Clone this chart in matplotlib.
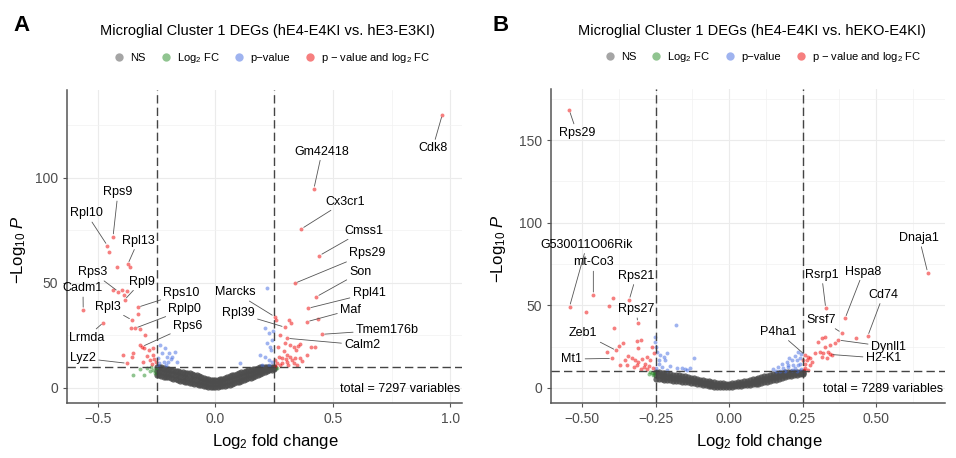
import matplotlib.pyplot as plt
from matplotlib.lines import Line2D

plt.rcParams['font.family'] = ['Liberation Sans', 'DejaVu Sans']
plt.rcParams['mathtext.fontset'] = 'custom'
plt.rcParams['mathtext.rm'] = 'Liberation Sans'
plt.rcParams['mathtext.it'] = 'Liberation Sans:italic'

# ---------------- panel A data ----------------
a_title = "Microglial Cluster 1 DEGs (hE4-E4KI vs. hE3-E3KI)"
a_total = 7297
a_genes = ["Cdk8", "Gm42418", "Cx3cr1", "Cmss1", "Rps29", "Son", "Rpl41", "Maf",
           "Tmem176b", "Calm2", "Marcks", "Rpl39", "Rps9", "Rpl10", "Rpl13", "Rps3",
           "Rpl9", "Cadm1", "Rps10", "Rpl3", "Rplp0", "Rps6", "Lrmda", "Lyz2"]
a_gene_fc = [0.966, 0.419, 0.366, 0.443, 0.338, 0.43, 0.395, 0.39,
             0.454, 0.305, 0.252, 0.295, -0.436, -0.46, -0.373, -0.413,
             -0.387, -0.563, -0.33, -0.356, -0.342, -0.313, -0.477, -0.377]
a_gene_p = [130, 94.6, 75.6, 62.9, 49.7, 43.3, 37.8, 31.4,
            25.4, 23.5, 33.8, 28.8, 71.9, 67.6, 58.8, 45.7,
            41.8, 37, 38.3, 32.2, 28.3, 19.5, 31, 11.6]
a_red_fc = [-0.363, -0.42, -0.453, -0.435, -0.396, -0.377, -0.39, -0.33, -0.359, -0.32,
            -0.299, -0.32, -0.306, -0.285, -0.264, -0.268, -0.262, -0.278, -0.272, -0.392,
            -0.349, -0.356, -0.29, -0.255, -0.31,
            0.258, 0.312, 0.323, 0.276, 0.298, 0.319, 0.333, 0.352, 0.362, 0.343,
            0.405, 0.423, 0.437, 0.269, 0.283, 0.305, 0.319, 0.326, 0.34, 0.362,
            0.305, 0.283, 0.262, 0.255, 0.276, 0.348, 0.333, 0.39, 0.29, 0.265,
            0.31, 0.37, 0.255, 0.3]
a_red_p = [57.6, 57.6, 64.8, 46.5, 46.5, 46.2, 44.1, 35.1, 28.3, 27.8,
           25.1, 20.3, 18.8, 18, 18.8, 15.6, 13.5, 13.2, 11.5, 15.6,
           16.4, 14.8, 15.0, 12.0, 12.2,
           32.2, 32.2, 31, 25.1, 21.1, 20.3, 19.5, 19.8, 20.8, 18,
           19.2, 19.2, 32.6, 14.8, 14, 15.6, 14.8, 13.2, 14, 14,
           12.4, 11.6, 11.6, 13.2, 10.8, 10.8, 11.7, 15.6, 17.5, 19.5,
           10.6, 12.5, 10.5, 13.5]
a_blue_fc = [-0.235, -0.214, -0.197, -0.185, -0.206, -0.228, -0.171, -0.221, -0.239, -0.2,
             -0.245, -0.165, -0.19, -0.21, -0.245, 0.105, 0.219, 0.212, 0.226, 0.219,
             0.19, 0.212, 0.238, 0.241, 0.234, 0.241, 0.226, 0.245, 0.23, 0.2]
a_blue_p = [20.3, 18.8, 16.4, 14.8, 14.8, 16.4, 17.1, 12.4, 11.9, 12.4,
            14, 12.4, 13.5, 11, 10.5, 11.6, 47.3, 28.3, 25.9, 21.1,
            15.6, 14.8, 18, 22.7, 19.5, 12.4, 13.2, 27, 11, 10.8]
a_green_fc = [-0.349, -0.306, -0.292, -0.274, -0.259, -0.265, -0.28, -0.255, -0.32, 0.26]
a_green_p = [6, 6, 9.2, 9.6, 6.9, 8.5, 7.8, 9.2, 8.8, 9.5]
a_ns_fc = [-0.25, -0.24, -0.23, -0.22, -0.21, -0.20, -0.19, -0.18, -0.17, -0.16,
           -0.15, -0.14, -0.13, -0.12, -0.11, -0.10, -0.09, -0.08, -0.07, -0.06,
           -0.05, -0.04, -0.03, -0.02, -0.01, 0.00, 0.01, 0.02, 0.03, 0.04,
           0.05, 0.06, 0.07, 0.08, 0.09, 0.10, 0.11, 0.12, 0.13, 0.14,
           0.15, 0.16, 0.17, 0.18, 0.19, 0.20, 0.21, 0.22, 0.23, 0.24, 0.25]
a_ns_low = [6.0, 5.8, 5.5, 5.3, 5.1, 4.9, 4.6, 4.3, 4.0, 3.7,
            3.4, 3.1, 2.8, 2.5, 2.3, 2.1, 1.8, 1.6, 1.3, 1.1,
            0.9, 0.7, 0.5, 0.4, 0.3, 0.4, 0.5, 0.6, 0.8, 1.0,
            1.2, 1.5, 1.8, 2.1, 2.5, 2.9, 3.2, 3.6, 4.0, 4.4,
            4.8, 5.2, 5.6, 6.0, 6.5, 7.0, 7.4, 7.8, 8.2, 8.6, 9.0]
a_ns_mid = [8.0, 7.8, 7.5, 7.4, 7.0, 6.9, 6.6, 6.3, 6.1, 5.8,
            5.5, 5.2, 5.0, 4.7, 4.6, 4.3, 4.0, 3.7, 3.4, 3.0,
            2.8, 2.5, 2.2, 2.1, 2.0, 2.0, 2.2, 2.3, 2.5, 2.8,
            3.1, 3.5, 3.8, 4.1, 4.6, 4.9, 5.3, 5.6, 6.0, 6.3,
            6.6, 7.0, 7.4, 7.7, 8.1, 8.4, 8.7, 8.9, 9.1, 9.3, 9.5]
a_ns_high = [10.0, 9.8, 9.6, 9.3, 9.1, 8.9, 8.6, 8.4, 8.1, 7.9,
             7.6, 7.4, 7.2, 7.0, 6.8, 6.6, 6.2, 5.8, 5.4, 5.0,
             4.6, 4.3, 4.0, 3.8, 3.7, 3.7, 3.8, 4.0, 4.3, 4.6,
             5.0, 5.4, 5.8, 6.2, 6.6, 7.0, 7.3, 7.6, 7.9, 8.2,
             8.5, 8.8, 9.1, 9.4, 9.7, 9.9, 10.0, 10.0, 10.0, 10.0, 10.0]

# ---------------- panel B data ----------------
b_title = "Microglial Cluster 1 DEGs (hE4-E4KI vs. hEKO-E4KI)"
b_total = 7289
b_genes = ["Rps29", "G530011O06Rik", "mt-Co3", "Rps21", "Rps27", "Zeb1", "Mt1",
           "Dnaja1", "Rsrp1", "Hspa8", "Cd74", "Srsf7", "Dynll1", "H2-K1", "P4ha1"]
b_gene_fc = [-0.544, -0.543, -0.462, -0.34, -0.311, -0.384, -0.398,
             0.676, 0.329, 0.395, 0.472, 0.383, 0.372, 0.344, 0.259]
b_gene_p = [168.2, 49.2, 56.4, 53.3, 39.5, 22.7, 17.9,
            69.9, 48.3, 42.2, 31.4, 33.4, 29, 20.3, 19.9]
b_red_fc = [-0.486, -0.41, -0.396, -0.393, -0.362, -0.373, -0.312, -0.3, -0.416, -0.309,
            -0.343, -0.331, -0.32, -0.309, -0.297, -0.286, -0.314, -0.348, -0.371, -0.274,
            -0.269, -0.257, -0.263, -0.28, -0.291, -0.3, -0.26, -0.325, -0.28, -0.355,
            0.432, 0.304, 0.327, 0.315, 0.344, 0.361, 0.327, 0.31, 0.321, 0.338,
            0.315, 0.332, 0.349, 0.293, 0.276, 0.264, 0.259, 0.276, 0.27, 0.253,
            0.281, 0.26, 0.27, 0.255]
b_red_p = [45.8, 49.9, 54.3, 36.1, 27.4, 25.3, 28.6, 29, 21.9, 24,
           19.3, 17.9, 16.8, 15.8, 17.3, 14.8, 13.8, 13.8, 14.2, 13.2,
           16.8, 20.9, 24.9, 18.8, 12.8, 11.5, 12, 12.5, 11.2, 17,
           30, 28, 31, 30.5, 26, 27, 24.9, 21.9, 20.9, 21.9,
           18.5, 17.9, 19.9, 20.9, 17.9, 16.8, 14.8, 13.8, 18.8, 16.8,
           15.8, 12, 11, 10.8]
b_blue_fc = [-0.252, -0.252, -0.248, -0.245, -0.235, -0.223, -0.212, -0.218, -0.239, -0.24,
             -0.18, -0.121, -0.178, -0.161, -0.144, -0.15, -0.133, -0.248, -0.23, -0.2,
             -0.21, 0.151, 0.168, 0.179, 0.196, 0.213, 0.224, 0.23, 0.241, 0.202,
             0.219, 0.236, 0.185, 0.241, 0.245, 0.235, 0.205, 0.19, 0.215, 0.23,
             0.245, 0.16, 0.175, 0.2, 0.225]
b_blue_p = [31, 28, 25, 22, 19.9, 18.5, 20.9, 16.8, 16.8, 14.8,
            38.1, 17.9, 11.8, 11.8, 10.8, 11.2, 11.8, 12, 12.5, 13.5,
            11, 11.2, 12.8, 14.8, 15.8, 16.8, 19.3, 16.8, 17.9, 12.8,
            13.8, 13.8, 11.8, 14.8, 20.5, 22, 18, 10.5, 11, 10.5,
            11.5, 10.3, 10.5, 14, 12]
b_green_fc = [-0.274, -0.263, -0.258, -0.268, -0.255]
b_green_p = [8.3, 8.8, 7.8, 9.5, 9.3]
b_ns_fc = [-0.25, -0.24, -0.23, -0.22, -0.21, -0.20, -0.19, -0.18, -0.17, -0.16,
           -0.15, -0.14, -0.13, -0.12, -0.11, -0.10, -0.09, -0.08, -0.07, -0.06,
           -0.05, -0.04, -0.03, -0.02, -0.01, 0.00, 0.01, 0.02, 0.03, 0.04,
           0.05, 0.06, 0.07, 0.08, 0.09, 0.10, 0.11, 0.12, 0.13, 0.14,
           0.15, 0.16, 0.17, 0.18, 0.19, 0.20, 0.21, 0.22, 0.23, 0.24, 0.25]
b_ns_low = [5.7, 5.5, 5.3, 5.1, 4.9, 4.7, 4.5, 4.3, 4.1, 3.9,
            3.7, 3.4, 3.1, 2.8, 2.5, 2.2, 1.9, 1.6, 1.3, 1.0,
            0.7, 0.5, 0.3, 0.3, 0.4, 0.5, 0.7, 0.9, 1.1, 1.3,
            1.5, 1.7, 1.9, 2.2, 2.4, 2.7, 3.1, 3.5, 3.9, 4.3,
            4.7, 5.1, 5.6, 6.1, 6.6, 7.1, 7.4, 7.7, 8.0, 8.4, 8.7]
b_ns_mid = [7.8, 7.6, 7.3, 7.0, 6.8, 6.5, 6.3, 6.0, 5.9, 5.6,
            5.4, 5.0, 4.7, 4.3, 4.0, 3.6, 3.3, 3.0, 2.6, 2.3,
            2.0, 1.8, 1.6, 1.5, 1.5, 1.6, 1.8, 2.0, 2.2, 2.5,
            2.7, 3.0, 3.3, 3.7, 4.0, 4.5, 4.9, 5.3, 5.7, 6.1,
            6.5, 6.9, 7.3, 7.7, 8.1, 8.5, 8.6, 8.8, 9.0, 9.1, 9.3]
b_ns_high = [9.9, 9.6, 9.3, 9.0, 8.7, 8.4, 8.1, 7.8, 7.6, 7.3,
             7.1, 6.7, 6.3, 5.9, 5.5, 5.1, 4.7, 4.4, 4.0, 3.7,
             3.4, 3.1, 2.9, 2.8, 2.7, 2.7, 2.9, 3.1, 3.4, 3.7,
             4.0, 4.4, 4.8, 5.2, 5.7, 6.3, 6.7, 7.1, 7.5, 7.9,
             8.3, 8.7, 9.0, 9.3, 9.6, 9.9, 9.9, 9.9, 9.9, 9.9, 9.9]

# label placement (layout only)
a_label_pos = {"Cdk8": (0.925, 114), "Gm42418": (0.454, 112.4), "Cx3cr1": (0.551, 88.6),
               "Cmss1": (0.63, 74.8), "Rps29": (0.647, 64), "Son": (0.618, 55),
               "Rpl41": (0.654, 45), "Maf": (0.575, 37), "Tmem176b": (0.732, 27.5),
               "Calm2": (0.625, 20.3), "Marcks": (0.084, 45.4), "Rpl39": (0.098, 35.4),
               "Rps9": (-0.415, 93), "Rpl10": (-0.55, 83), "Rpl13": (-0.329, 69.9),
               "Rps3": (-0.524, 55), "Rpl9": (-0.315, 50.5), "Cadm1": (-0.564, 47.3),
               "Rps10": (-0.144, 45), "Rpl3": (-0.457, 38.6), "Rplp0": (-0.13, 37.3),
               "Rps6": (-0.118, 29.4), "Lrmda": (-0.55, 23.8), "Lyz2": (-0.564, 14)}
b_label_pos = {"Rps29": (-0.518, 154.6), "G530011O06Rik": (-0.484, 86.7), "mt-Co3": (-0.462, 76),
               "Rps21": (-0.316, 67.9), "Rps27": (-0.316, 47.7), "Zeb1": (-0.496, 33),
               "Mt1": (-0.535, 17.5), "Dnaja1": (0.647, 90.8), "Rsrp1": (0.315, 68.5),
               "Hspa8": (0.457, 70.5), "Cd74": (0.525, 56.4), "Srsf7": (0.315, 41.2),
               "Dynll1": (0.542, 24.9), "H2-K1": (0.525, 17.9), "P4ha1": (0.168, 34)}

C_NS, C_FC, C_P, C_BOTH = '#4D4D4D', '#228B22', '#4169E1', '#EE0000'


def draw_panel(ax, ns_fc, ns_lo, ns_mid, ns_hi, green, blue, red, genes, gfc, gp,
               label_pos, total, xlim, ylim, xticks, xticklabels, yticks, xminor, yminor):
    ax.set_xlim(*xlim)
    ax.set_ylim(*ylim)
    ax.set_xticks(xticks)
    ax.set_xticklabels(xticklabels)
    ax.set_yticks(yticks)
    ax.set_xticks(xminor, minor=True)
    ax.set_yticks(yminor, minor=True)
    ax.grid(True, which='major', color='#EBEBEB', lw=0.8)
    ax.grid(True, which='minor', color='#F2F2F2', lw=0.5)
    ax.tick_params(which='minor', length=0)
    ax.tick_params(which='major', length=3, color='#555555', labelsize=10,
                   labelcolor='#4D4D4D', width=0.8)
    ax.set_axisbelow(True)
    for s in ['top', 'right']:
        ax.spines[s].set_visible(False)
    for s in ['left', 'bottom']:
        ax.spines[s].set_color('#555555')
        ax.spines[s].set_linewidth(1.1)

    for ys in (ns_lo, ns_mid, ns_hi):
        ax.scatter(ns_fc, ys, s=20, color=C_NS, alpha=0.85, linewidths=0, zorder=2)
    ax.scatter(green[0], green[1], s=8, color=C_FC, alpha=0.5, linewidths=0, zorder=2)
    ax.scatter(blue[0], blue[1], s=8, color=C_P, alpha=0.5, linewidths=0, zorder=2)
    ax.scatter(red[0], red[1], s=8, color=C_BOTH, alpha=0.5, linewidths=0, zorder=2)
    ax.scatter(gfc, gp, s=8, color=C_BOTH, alpha=0.5, linewidths=0, zorder=2)

    ax.axvline(-0.25, color='#444444', lw=1.0, ls=(0, (6, 3)), zorder=3)
    ax.axvline(0.25, color='#444444', lw=1.0, ls=(0, (6, 3)), zorder=3)
    ax.axhline(10, color='#444444', lw=1.0, ls=(0, (6, 3)), zorder=3)

    for g, x, y in zip(genes, gfc, gp):
        tx, ty = label_pos[g]
        ax.annotate(g, xy=(x, y), xytext=(tx, ty), ha='center', va='center',
                    fontsize=9, color='black', zorder=4,
                    arrowprops=dict(arrowstyle='-', color='#555555', lw=0.6,
                                    shrinkA=0, shrinkB=2))

    ax.text(0.995, 0.045, "total = %d variables" % total, transform=ax.transAxes,
            ha='right', va='center', fontsize=9, color='black')
    ax.set_xlabel(r'$\mathrm{Log}_{2}$ fold change', fontsize=12)
    ax.set_ylabel(r'$-\mathrm{Log}_{10}\ \mathit{P}$', fontsize=12)


fig = plt.figure(figsize=(9.56, 4.58), dpi=100)
ax1 = fig.add_axes([0.0701, 0.1201, 0.4132, 0.6834])
ax2 = fig.add_axes([0.5764, 0.1201, 0.4121, 0.6856])

draw_panel(ax1, a_ns_fc, a_ns_low, a_ns_mid, a_ns_high,
           (a_green_fc, a_green_p), (a_blue_fc, a_blue_p), (a_red_fc, a_red_p),
           a_genes, a_gene_fc, a_gene_p, a_label_pos, a_total,
           (-0.632, 1.05), (-7.3, 141.7), [-0.5, 0.0, 0.5, 1.0],
           ['\u22120.5', '0.0', '0.5', '1.0'], [0, 50, 100],
           [-0.25, 0.25, 0.75], [25, 75, 125])
draw_panel(ax2, b_ns_fc, b_ns_low, b_ns_mid, b_ns_high,
           (b_green_fc, b_green_p), (b_blue_fc, b_blue_p), (b_red_fc, b_red_p),
           b_genes, b_gene_fc, b_gene_p, b_label_pos, b_total,
           (-0.606, 0.735), (-9.1, 181), [-0.5, -0.25, 0.0, 0.25, 0.5],
           ['\u22120.50', '\u22120.25', '0.00', '0.25', '0.50'], [0, 50, 100, 150],
           [-0.375, -0.125, 0.125, 0.375, 0.625], [25, 75, 125, 175])

ax1.xaxis.set_label_coords(0.527, -0.093)
ax2.xaxis.set_label_coords(0.53, -0.093)
ax1.yaxis.set_label_coords(-0.099, 0.49)
ax2.yaxis.set_label_coords(-0.109, 0.49)

# titles, panel letters and legends
fig.text(0.28, 0.932, a_title, ha='center', va='center', fontsize=10.5)
fig.text(0.787, 0.932, b_title, ha='center', va='center', fontsize=10.5)
fig.text(0.014, 0.945, 'A', ha='left', va='center', fontsize=16, fontweight='bold')
fig.text(0.515, 0.945, 'B', ha='left', va='center', fontsize=16, fontweight='bold')

handles = [Line2D([], [], ls='', marker='o', ms=6, mec='none', color=c, alpha=0.5)
           for c in (C_NS, C_FC, C_P, C_BOTH)]
labels = ['NS', r'$\mathrm{Log}_{2}$ FC', 'p\u2212value', r'p $-$ value and $\mathrm{log}_{2}$ FC']
for ax, cx in ((ax1, 0.519), (ax2, 0.537)):
    ax.legend(handles, labels, loc='center', bbox_to_anchor=(cx, 1.102), ncol=4,
              frameon=False, fontsize=8, handlelength=1.0, handletextpad=0.5,
              columnspacing=1.3, borderaxespad=0)

fig.savefig('out.png', dpi=100)
